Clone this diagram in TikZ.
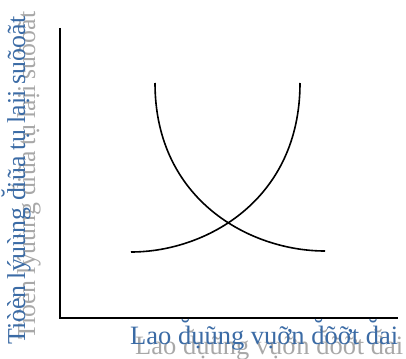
\documentclass[tikz,border=0pt]{standalone}
\usepackage{fontspec}
\setmainfont{Liberation Serif}
\definecolor{labelblue}{HTML}{3B6BA5}
\definecolor{shadowgray}{HTML}{A8A8A8}
\tikzset{
  axisline/.style={line width=1.8pt, black},
  curveline/.style={line width=1.6pt, black},
  lbl/.style={font=\fontsize{26.5}{26.5}\selectfont, inner sep=0pt, anchor=base west, text=labelblue},
  ylbl/.style={lbl, font=\fontsize{25.8}{25.8}\selectfont, rotate=90},
  shd/.style={text=shadowgray},
}
\begin{document}
\begin{tikzpicture}[x=1pt,y=-1pt]
\useasboundingbox (0,0) rectangle (406,358);
% shadows
\node[lbl, shd] (xs) at (135,354) {Lao d̆ụũng vụỡn d̆õỡt d̆ai};
\node[ylbl, shd] (ys) at (35,340) {Tiòèn lýuùng d̆iũa tụ laịi suõoãt};
% axes
\coordinate (top) at (60,28);
\coordinate (org) at (60,318);
\coordinate (right) at (398,318);
\draw[axisline] (top) -- (org) -- (right);
% curves
\coordinate (a1) at (155,83);
\coordinate (a2) at (325,251);
\coordinate (b1) at (300,83);
\coordinate (b2) at (131,252);
\draw[curveline] (a1) .. controls (155,200) and (250,251) .. (a2);
\draw[curveline] (b1) .. controls (300,200) and (206,252) .. (b2);
% labels
\node[lbl] (xl) at (130,344) {Lao d̆ụũng vụỡn d̆õỡt d̆ai};
\node[ylbl] (yl) at (25,345) {Tiòèn lýuùng d̆iũa tụ laịi suõoãt};
\end{tikzpicture}
\end{document}
